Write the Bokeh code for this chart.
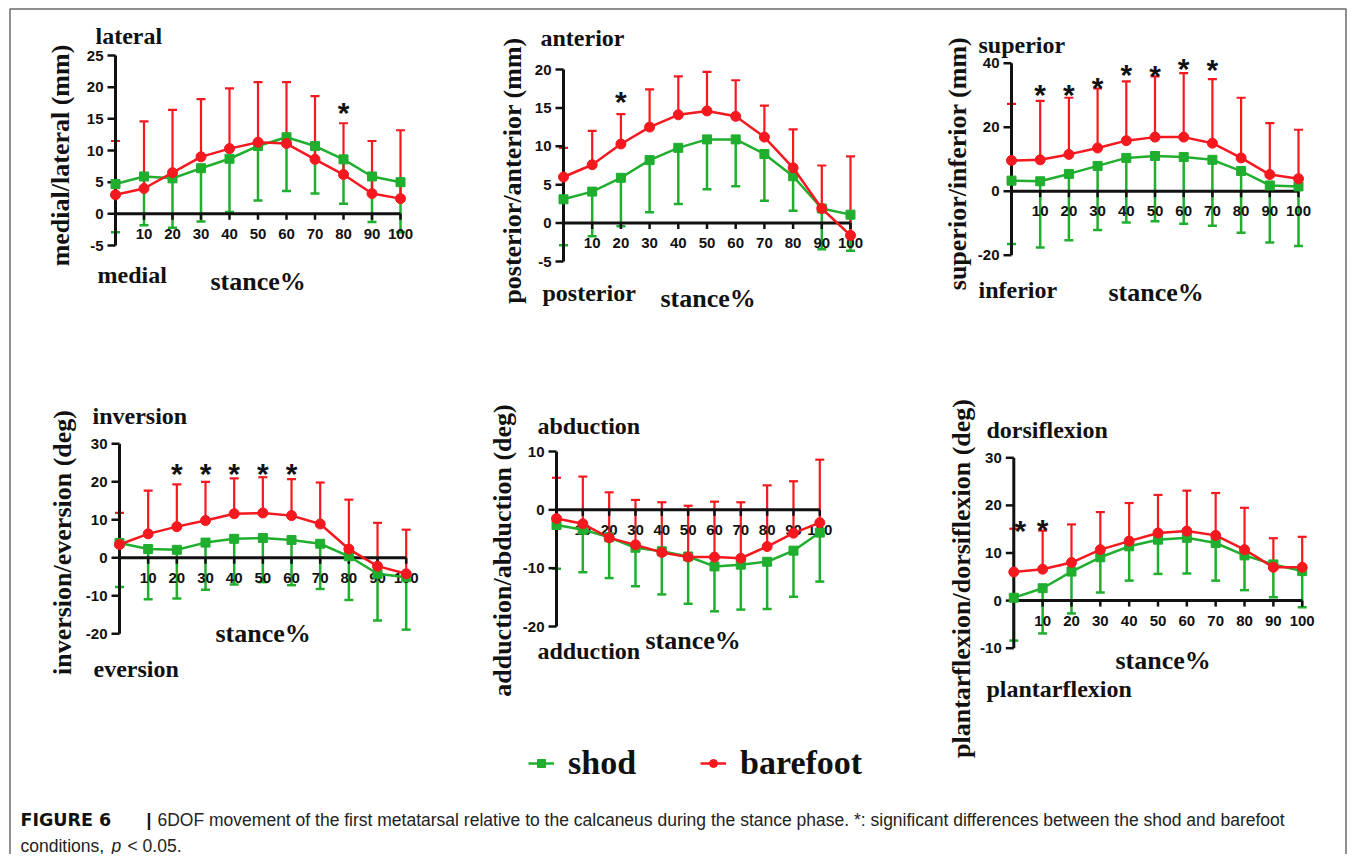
import numpy as np
from bokeh.plotting import figure
from bokeh.models import Range1d, Legend, LegendItem
from bokeh.core.properties import value
from bokeh.embed import file_html
from bokeh.resources import INLINE

# ---------------- data ----------------
stance = [0, 10, 20, 30, 40, 50, 60, 70, 80, 90, 100]
x_tick_values = [10, 20, 30, 40, 50, 60, 70, 80, 90, 100]
x_tick_labels = ["10", "20", "30", "40", "50", "60", "70", "80", "90", "100"]
series_names = ["shod", "barefoot"]

# medial/lateral (mm)
ml_shod = [4.7, 5.9, 5.6, 7.2, 8.7, 10.7, 12.1, 10.7, 8.6, 5.9, 5.0]
ml_shod_sd = [7.6, 7.7, 7.8, 8.4, 8.4, 8.6, 8.5, 7.5, 7.0, 7.2, 7.9]
ml_bare = [3.0, 4.0, 6.5, 9.0, 10.3, 11.3, 11.1, 8.6, 6.2, 3.2, 2.4]
ml_bare_sd = [8.5, 10.6, 9.9, 9.1, 9.5, 9.5, 9.7, 10.0, 8.1, 8.3, 10.8]
ml_yticks = [-5, 0, 5, 10, 15, 20, 25]
ml_star_x = [80]
ml_star_y = [17.1]

# posterior/anterior (mm)
pa_shod = [3.1, 4.1, 5.9, 8.2, 9.8, 10.9, 10.9, 9.0, 6.1, 1.9, 1.1]
pa_shod_sd = [6.0, 5.8, 6.3, 6.8, 7.3, 6.5, 6.1, 6.1, 4.5, 5.3, 4.7]
pa_bare = [6.0, 7.6, 10.3, 12.5, 14.1, 14.6, 13.9, 11.2, 7.2, 1.9, -1.6]
pa_bare_sd = [3.8, 4.4, 3.9, 4.9, 5.0, 5.1, 4.7, 4.1, 5.0, 5.6, 10.3]
pa_yticks = [-5, 0, 5, 10, 15, 20]
pa_star_x = [20]
pa_star_y = [16.7]

# superior/inferior (mm)
si_shod = [3.3, 3.1, 5.4, 7.9, 10.4, 11.0, 10.7, 9.8, 6.3, 1.8, 1.5]
si_shod_sd = [19.8, 20.7, 20.7, 20.0, 20.2, 20.4, 20.9, 20.6, 19.3, 17.8, 18.6]
si_bare = [9.6, 9.8, 11.5, 13.5, 15.8, 16.9, 16.9, 15.0, 10.4, 5.2, 3.9]
si_bare_sd = [17.7, 18.4, 17.7, 18.6, 18.5, 19.0, 20.0, 20.0, 18.8, 16.1, 15.3]
si_yticks = [-20, 0, 20, 40]
si_star_x = [10, 20, 30, 40, 50, 60, 70]
si_star_y = [32.5, 32.5, 34.6, 38.7, 38.4, 40.6, 40.3]

# inversion/eversion (deg)
ie_shod = [3.9, 2.3, 2.1, 4.0, 5.0, 5.2, 4.7, 3.7, 0.4, -4.2, -5.1]
ie_shod_sd = [11.6, 13.2, 12.8, 12.4, 12.0, 11.6, 11.9, 11.9, 11.5, 12.3, 13.8]
ie_bare = [3.5, 6.3, 8.2, 9.8, 11.6, 11.8, 11.1, 8.9, 2.3, -2.2, -4.2]
ie_bare_sd = [8.3, 11.4, 11.1, 10.2, 9.3, 9.4, 9.6, 10.9, 13.0, 11.4, 11.6]
ie_yticks = [-20, -10, 0, 10, 20, 30]
ie_star_x = [20, 30, 40, 50, 60]
ie_star_y = [23.9, 23.9, 23.9, 23.9, 23.9]

# adduction/abduction (deg)
aa_shod = [-2.6, -3.4, -4.7, -6.5, -7.1, -8.0, -9.7, -9.4, -8.9, -7.0, -3.9]
aa_shod_sd = [7.5, 7.3, 7.0, 6.6, 7.4, 8.1, 7.7, 7.7, 8.1, 7.9, 8.4]
aa_bare = [-1.5, -2.4, -4.8, -6.0, -7.3, -8.1, -8.1, -8.3, -6.3, -4.0, -2.2]
aa_bare_sd = [7.0, 8.1, 7.8, 7.7, 8.6, 8.8, 9.5, 9.6, 10.5, 8.9, 10.8]
aa_yticks = [-20, -10, 0, 10]
aa_star_x = []
aa_star_y = []

# plantarflexion/dorsiflexion (deg)
pd_shod = [0.6, 2.6, 6.1, 9.1, 11.4, 12.8, 13.2, 12.1, 9.5, 7.6, 6.2]
pd_shod_sd = [9.0, 9.5, 8.8, 7.4, 7.2, 7.2, 7.5, 7.9, 7.3, 6.9, 7.6]
pd_bare = [6.0, 6.6, 8.0, 10.7, 12.5, 14.2, 14.6, 13.7, 10.7, 7.0, 7.0]
pd_bare_sd = [9.1, 8.1, 8.0, 7.9, 8.0, 8.0, 8.5, 8.9, 8.8, 6.1, 6.4]
pd_yticks = [-10, 0, 10, 20, 30]
pd_star_x = [2.3, 10]
pd_star_y = [16.3, 16.5]

caption_bold = "FIGURE 6"
caption_bar = "|"
caption_line1 = ("6DOF movement of the first metatarsal relative to the calcaneus during the "
                 "stance phase. *: significant differences between the shod and barefoot")
caption_line2a = "conditions,"
caption_line2b = "p"
caption_line2c = "< 0.05."

# ---------------- layout (page pixel positions) ----------------
W, H = 1347, 854
def px(X):
    return X
def py(Y):
    return H - Y

# box: (X at x=0, X at x=100, Y at ymin, Y at ymax)
panels = [
    dict(shod=ml_shod, shod_sd=ml_shod_sd, bare=ml_bare, bare_sd=ml_bare_sd, yticks=ml_yticks,
         sx=ml_star_x, sy=ml_star_y, box=(115, 400, 245, 55),
         rot=("medial/lateral (mm)", 60, 155), top=("lateral", 95, 35),
         bot=("medial", 97, 274), st=(210, 281)),
    dict(shod=pa_shod, shod_sd=pa_shod_sd, bare=pa_bare, bare_sd=pa_bare_sd, yticks=pa_yticks,
         sx=pa_star_x, sy=pa_star_y, box=(563, 850, 261, 69),
         rot=("posterior/anterior (mm)", 512, 170), top=("anterior", 540, 37),
         bot=("posterior", 542, 292), st=(660, 298)),
    dict(shod=si_shod, shod_sd=si_shod_sd, bare=si_bare, bare_sd=si_bare_sd, yticks=si_yticks,
         sx=si_star_x, sy=si_star_y, box=(1011, 1298, 254.7, 62.7),
         rot=("superior/inferior (mm)", 957, 163), top=("superior", 978, 44),
         bot=("inferior", 978, 289), st=(1108, 292)),
    dict(shod=ie_shod, shod_sd=ie_shod_sd, bare=ie_bare, bare_sd=ie_bare_sd, yticks=ie_yticks,
         sx=ie_star_x, sy=ie_star_y, box=(119, 405.7, 633.3, 443.3),
         rot=("inversion/eversion (deg)", 62, 542), top=("inversion", 92, 415),
         bot=("eversion", 93, 668), st=(215, 633)),
    dict(shod=aa_shod, shod_sd=aa_shod_sd, bare=aa_bare, bare_sd=aa_bare_sd, yticks=aa_yticks,
         sx=aa_star_x, sy=aa_star_y, box=(556, 819.3, 626, 451),
         rot=("adduction/abduction (deg)", 502, 550), top=("abduction", 537, 425),
         bot=("adduction", 537, 650), st=(645, 640)),
    dict(shod=pd_shod, shod_sd=pd_shod_sd, bare=pd_bare, bare_sd=pd_bare_sd, yticks=pd_yticks,
         sx=pd_star_x, sy=pd_star_y, box=(1013.3, 1301.7, 647.7, 457.3),
         rot=("plantarflexion/dorsiflexion (deg)", 961, 578), top=("dorsiflexion", 986, 429),
         bot=("plantarflexion", 986, 688), st=(1115, 660)),
]

GREEN = "#1fae2e"
RED = "#f5181f"
BLACK = "#111111"
SERIF = value("Liberation Serif")
SANS = value("Liberation Sans")

p = figure(width=W, height=H, x_range=Range1d(0, W), y_range=Range1d(0, H),
           x_axis_type=None, y_axis_type=None, output_backend="svg",
           toolbar_location=None, min_border=0)
p.grid.visible = False
p.outline_line_color = None
p.background_fill_color = "white"
p.border_fill_color = "white"

# frame border (open at bottom)
p.line(x=[9.5, 9.5, W - 1.5, W - 1.5], y=[0, H - 8.5, H - 8.5, 0], line_color="#6b6b6b", line_width=1.5)

legend_renderers = None
for i, pan in enumerate(panels):
    X0, X1, Yb, Yt = pan["box"]
    yt = pan["yticks"]
    ymin, ymax = yt[0], yt[-1]
    sub = p.subplot(x_source=Range1d(0, 100), y_source=Range1d(ymin, ymax),
                    x_target=Range1d(px(X0), px(X1)), y_target=Range1d(py(Yb), py(Yt)))
    shod = np.array(pan["shod"]); shod_sd = np.array(pan["shod_sd"])
    bare = np.array(pan["bare"]); bare_sd = np.array(pan["bare_sd"])
    lo = shod - shod_sd
    hi = bare + bare_sd
    # error bars
    sub.segment(x0=stance, y0=shod, x1=stance, y1=lo, line_color=GREEN, line_width=2.5)
    sub.scatter(x=stance, y=lo, marker="dash", size=9, line_color=GREEN, line_width=2.5)
    sub.segment(x0=stance, y0=bare, x1=stance, y1=hi, line_color=RED, line_width=2.2)
    sub.scatter(x=stance, y=hi, marker="dash", size=9, line_color=RED, line_width=2.2)
    # axes
    sub.segment(x0=[0], y0=[ymin], x1=[0], y1=[ymax], line_color=BLACK, line_width=3)
    sub.ray(x=[0] * len(yt), y=yt, length=8, length_units="screen", angle=np.pi,
            line_color=BLACK, line_width=2.5)
    sub.text(x=[0] * len(yt), y=yt, text=[str(v) for v in yt], x_offset=-12,
             text_align="right", text_baseline="middle", text_font=SANS,
             text_font_style="bold", text_font_size="15px", text_color=BLACK)
    sub.segment(x0=[0], y0=[0], x1=[100], y1=[0], line_color=BLACK, line_width=3)
    sub.ray(x=x_tick_values, y=[0] * len(x_tick_values), length=6, length_units="screen",
            angle=-np.pi / 2, line_color=BLACK, line_width=2.5)
    sub.text(x=x_tick_values, y=[0] * len(x_tick_values), text=x_tick_labels, y_offset=20,
             text_align="center", text_baseline="middle", text_font=SANS,
             text_font_style="bold", text_font_size="15px", text_color=BLACK)
    # series
    gl = sub.line(x=stance, y=shod, line_color=GREEN, line_width=2.5)
    gs = sub.scatter(x=stance, y=shod, marker="square", size=9, fill_color=GREEN, line_color=GREEN)
    rl = sub.line(x=stance, y=bare, line_color=RED, line_width=2.5)
    rs = sub.scatter(x=stance, y=bare, marker="circle", size=10, fill_color=RED, line_color=RED)
    if legend_renderers is None:
        legend_renderers = ([gl, gs], [rl, rs])
    # significance stars
    if pan["sx"]:
        sub.text(x=pan["sx"], y=pan["sy"], text=["*"] * len(pan["sx"]), y_offset=7,
                 text_align="center", text_baseline="middle", text_font=SANS,
                 text_font_style="bold", text_font_size="30px", text_color=BLACK)
    # texts
    rt, rx, ry = pan["rot"]
    p.text(x=[px(rx)], y=[py(ry)], text=[rt], angle=np.pi / 2, text_align="center",
           text_baseline="middle", text_font=SERIF, text_font_style="bold",
           text_font_size="26px", text_color=BLACK)
    for key in ("top", "bot"):
        t, tx, ty = pan[key]
        p.text(x=[px(tx)], y=[py(ty)], text=[t], text_align="left", text_baseline="middle",
               text_font=SERIF, text_font_style="bold", text_font_size="24px", text_color=BLACK)
    sx_, sy_ = pan["st"]
    p.text(x=[px(sx_)], y=[py(sy_)], text=["stance%"], text_align="left", text_baseline="middle",
           text_font=SERIF, text_font_style="bold", text_font_size="26px", text_color=BLACK)

legend = Legend(items=[LegendItem(label=series_names[0], renderers=legend_renderers[0]),
                       LegendItem(label=series_names[1], renderers=legend_renderers[1])],
                orientation="horizontal", location=(528, py(782)),
                label_text_font="Liberation Serif", label_text_font_style="bold",
                label_text_font_size="34px", label_text_color=BLACK,
                glyph_width=26, glyph_height=20, label_standoff=14, spacing=64,
                padding=0, margin=0, border_line_color=None, background_fill_alpha=0)
p.add_layout(legend, "center")

# caption
cap_kw = dict(text_align="left", text_baseline="middle", text_font_size="17.5px")
p.text(x=[px(20)], y=[py(819)], text=[caption_bold], text_font=value("DejaVu Sans"),
       text_font_style="bold", text_color="#111111", **cap_kw)
p.text(x=[px(146)], y=[py(819)], text=[caption_bar], text_font=SANS, text_font_style="bold",
       text_color="#111111", **cap_kw)
p.text(x=[px(157)], y=[py(819)], text=[caption_line1], text_font=SANS, text_color="#222222", **cap_kw)
p.text(x=[px(20)], y=[py(845)], text=[caption_line2a], text_font=SANS, text_color="#222222", **cap_kw)
p.text(x=[px(111)], y=[py(845)], text=[caption_line2b], text_font=SANS, text_font_style="italic",
       text_color="#222222", **cap_kw)
p.text(x=[px(127)], y=[py(845)], text=[caption_line2c], text_font=SANS, text_color="#222222", **cap_kw)

open("out.html", "w").write(file_html(p, INLINE))
